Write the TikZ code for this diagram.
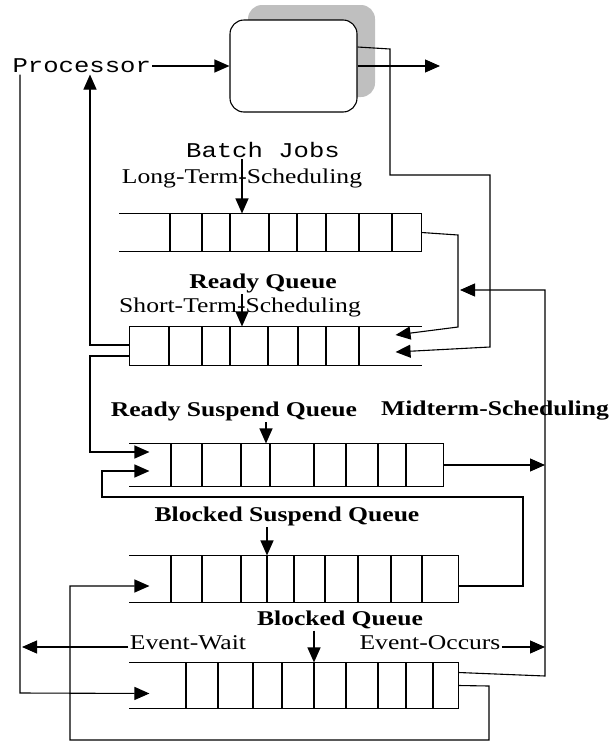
\documentclass[tikz,border=0pt]{standalone}
\usepackage{fontspec}
\setmainfont{Liberation Serif}[FakeStretch=1.22]
\setmonofont{Liberation Mono}[FakeStretch=1.22]
\usetikzlibrary{arrows.meta, shadows}

\begin{document}
\begin{tikzpicture}[x=1pt, y=-1pt, line width=1.1pt,
    >={Triangle[length=15pt,width=13pt]},
    queue/.style={inner sep=0pt},
    cpu/.style={draw, fill=white, rounded corners=14pt, minimum width=127pt,
      minimum height=92pt,
      general shadow={shadow xshift=18pt, shadow yshift=15pt, fill=black!25}},
    lbl/.style={inner sep=1pt, font=\fontsize{21}{25}\selectfont},
    code/.style={inner sep=1pt, font=\fontsize{21}{25}\selectfont\ttfamily},
    head/.style={inner sep=1pt, font=\fontsize{21}{25}\selectfont\bfseries}]

  \useasboundingbox (0,0) rectangle (612,742);

  % processor
  \node[cpu] (cpu) at (293.5,66) {};
  \node[code, anchor=west] (proc) at (11,66) {Processor};
  \coordinate (exit) at (440,66);

  % labels
  \node[code] (batch) at (263,150) {Batch Jobs};
  \node[lbl] (lts-lbl) at (242,178) {Long-Term-Scheduling};
  \node[head] (rq) at (263,283) {Ready Queue};
  \node[lbl] (sts-lbl) at (240,307) {Short-Term-Scheduling};
  \node[head] (rsq) at (234,411) {Ready Suspend Queue};
  \node[head] (mts-lbl) at (495,411) {Midterm-Scheduling};
  \node[head] (bsq) at (287,516) {Blocked Suspend Queue};
  \node[head] (bq) at (340,620) {Blocked Queue};
  \node[lbl] (wait) at (188,643) {Event-Wait};
  \node[lbl] (occurs) at (430,643) {Event-Occurs};

  % queues
  \node[queue, minimum width=301pt, minimum height=37pt] (lts) at (270.5,232.5) {};
  \node[queue, minimum width=291pt, minimum height=38pt] (ready) at (275.5,346) {};
  \node[queue, minimum width=313pt, minimum height=42pt] (rsusp) at (286.5,465) {};
  \node[queue, minimum width=328pt, minimum height=46pt] (bsusp) at (294,579) {};
  \node[queue, minimum width=328pt, minimum height=45pt] (blocked) at (294,685.5) {};

  \foreach \q in {lts,rsusp,bsusp,blocked}
    \draw (\q.north west) -- (\q.north east) -- (\q.south east) -- (\q.south west);
  \draw (ready.north east) -- (ready.north west) -- (ready.south west) -- (ready.south east);

  \foreach \q/\xs in {lts/{170,202,230,269,297,326,359,392},
                      ready/{169,202,230,268,298,326,359},
                      rsusp/{171,202,241,270,314,346,378,406},
                      bsusp/{171,202,241,267,294,325,358,391,422},
                      blocked/{186,218,253,282,314,346,378,406,433}}
    \foreach \x in \xs
      \draw (\x,0 |- \q.north) -- (\x,0 |- \q.south);

  \coordinate (bus) at (545,290);
  \coordinate (back) at (460,290);

  % connectors
  \draw[->] (proc.east) -- (cpu.west);
  \draw[->] (cpu.east) -- (exit);
  \draw[->] ([yshift=19pt]cpu.east) -- (390,49) -- (390,175) -- (490,175)
    -- (490,347) -- ([xshift=-26pt,yshift=-6pt]ready.east);
  \draw[->] (lts.east) -- (458,235) -- (458,327) -- ([xshift=-26pt,yshift=11pt]ready.east);
  \draw[->] ([yshift=1pt]ready.west) -- (90,345) -- (proc.south -| 90,0);
  \draw[->] ([yshift=-10pt]ready.west) -- (90,356) -- (90,452)
    -- ([xshift=20pt,yshift=13pt]rsusp.west);
  \draw[->] (rsusp.east) -- (rsusp.east -| bus);
  \draw[->] ([yshift=-7pt]bsusp.east) -- (523,586) -- (523,497) -- (102,497)
    -- (102,471) -- ([xshift=20pt,yshift=-6pt]rsusp.west);
  \draw[->] (blocked.east) -- (489,686) -- (489,740) -- (70,740) -- (70,586)
    -- ([xshift=20pt,yshift=-7pt]bsusp.west);
  \draw[->] ([yshift=13pt]blocked.east) -- (545,676) -- (bus) -- (back);
  \draw[->] (proc.south -| 20,0) -- (20,693) -- ([xshift=20pt,yshift=-8pt]blocked.west);
  \draw[->] ([yshift=-4pt]wait.west) -- ([yshift=-4pt]wait.west -| 22,0);
  \draw[->] ([yshift=-4pt]occurs.east) -- ([yshift=-4pt]occurs.east -| bus);

  \draw[->] (batch.south -| 242,0) -- (lts.north -| 242,0);
  \draw[->] (rq.south -| 242,0) -- (ready.north -| 242,0);
  \draw[->] (rsq.south -| 266,0) -- (rsusp.north -| 266,0);
  \draw[->] (bsq.south -| 267,0) -- (bsusp.north -| 267,0);
  \draw[->] (bq.south -| 314,0) -- (blocked.north -| 314,0);
\end{tikzpicture}
\end{document}
